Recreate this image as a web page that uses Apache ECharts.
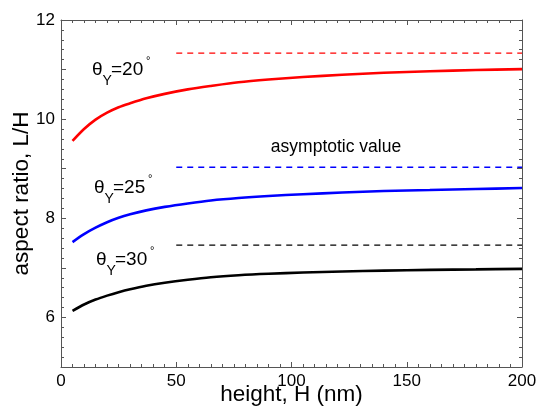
<!DOCTYPE html>
<html>
<head>
<meta charset="utf-8">
<script src="https://cdn.jsdelivr.net/npm/echarts@6/dist/echarts.min.js"></script>
<style>html,body{margin:0;padding:0;background:#fff}#c{width:537px;height:414px}</style>
</head>
<body>
<div id="c"></div>
<script>
// ---- data ----
var heights = [5, 10, 15, 20, 25, 30, 37, 45, 55, 65, 77, 90, 105, 122, 140, 160, 180, 200];
var ratio20 = [9.56, 9.80, 9.99, 10.13, 10.24, 10.32, 10.42, 10.51, 10.60, 10.67, 10.745, 10.80, 10.85, 10.895, 10.935, 10.965, 10.99, 11.01];
var ratio25 = [7.52, 7.68, 7.81, 7.92, 8.01, 8.08, 8.16, 8.23, 8.30, 8.36, 8.41, 8.45, 8.485, 8.52, 8.55, 8.57, 8.59, 8.61];
var ratio30 = [6.13, 6.26, 6.36, 6.44, 6.51, 6.57, 6.64, 6.70, 6.76, 6.81, 6.85, 6.88, 6.905, 6.925, 6.945, 6.96, 6.97, 6.98];
var asymH = [50, 200];
var asym20 = 11.33, asym25 = 9.03, asym30 = 7.46;
var xTicks = [0, 50, 100, 150, 200];
var yTickLabels = [6, 8, 10, 12];
var angleLabels = ['20', '25', '30'];

var FONT = '"Liberation Sans", Arial, sans-serif';
function pairs(ys) { return heights.map(function (h, i) { return [h, ys[i]]; }); }
function asymLine(v) { return asymH.map(function (h) { return [h, v]; }); }

var chart = echarts.init(document.getElementById('c'));

function thetaLabel(x0, yc, deg, color) {
  return {
    type: 'group', children: [
      { type: 'text', x: x0, y: yc, style: { text: 'θ', fill: color, font: '19px ' + FONT, verticalAlign: 'middle' } },
      { type: 'text', x: x0 + 10.5, y: yc + 11, style: { text: 'Y', fill: color, font: '14px ' + FONT, verticalAlign: 'middle' } },
      { type: 'text', x: x0 + 19, y: yc, style: { text: '=' + deg, fill: color, font: '19px ' + FONT, verticalAlign: 'middle' } },
      { type: 'text', x: x0 + 54, y: yc - 9, style: { text: '°', fill: color, font: '11px ' + FONT, verticalAlign: 'middle' } }
    ]
  };
}

var AX = '#555';
function mkTick() { return { show: true, inside: true, length: 5, lineStyle: { color: AX, width: 1 } }; }
function mkMinor(n) { return { show: true, splitNumber: n, length: 3, lineStyle: { color: AX, width: 1 } }; }
var axLine = { show: true, onZero: false, lineStyle: { color: AX, width: 1 } };

chart.setOption({
  animation: false,
  grid: { left: 61, right: 15, top: 20, bottom: 47, containLabel: false, outerBoundsMode: 'none' },
  xAxis: [
    {
      type: 'value', min: 0, max: 200, interval: 50, position: 'bottom',
      name: 'height, H (nm)', nameLocation: 'middle', nameGap: 16, nameMoveOverlap: false,
      nameTextStyle: { fontSize: 22.5, color: '#000', fontFamily: FONT },
      axisLabel: { fontSize: 17, color: '#000', fontFamily: FONT, margin: 6 },
      axisLine: axLine, axisTick: mkTick(), minorTick: mkMinor(10), splitLine: { show: false }
    },
    {
      type: 'value', min: 0, max: 200, interval: 50, position: 'top',
      axisLabel: { show: false },
      axisLine: axLine, axisTick: mkTick(), minorTick: mkMinor(10), splitLine: { show: false }
    }
  ],
  yAxis: [
    {
      type: 'value', min: 5, max: 12, interval: 1, position: 'left',
      name: 'aspect ratio, L/H', nameLocation: 'middle', nameGap: 28, nameMoveOverlap: false,
      nameTextStyle: { fontSize: 22.5, color: '#000', fontFamily: FONT },
      axisLabel: {
        fontSize: 17, color: '#000', fontFamily: FONT, margin: 6,
        formatter: function (v) { return yTickLabels.indexOf(v) >= 0 ? String(v) : ''; }
      },
      axisLine: axLine, axisTick: mkTick(), minorTick: mkMinor(5), splitLine: { show: false }
    },
    {
      type: 'value', min: 5, max: 12, interval: 1, position: 'right',
      axisLabel: { show: false },
      axisLine: axLine, axisTick: mkTick(), minorTick: mkMinor(5), splitLine: { show: false }
    }
  ],
  series: [
    { type: 'line', data: pairs(ratio20), smooth: 0.3, showSymbol: false, lineStyle: { color: '#ff0000', width: 2.6 } },
    { type: 'line', data: pairs(ratio25), smooth: 0.3, showSymbol: false, lineStyle: { color: '#0000ff', width: 2.6 } },
    { type: 'line', data: pairs(ratio30), smooth: 0.3, showSymbol: false, lineStyle: { color: '#000000', width: 2.6 } },
    { type: 'line', data: asymLine(asym20), showSymbol: false, lineStyle: { color: '#ff0000', width: 1.3, type: [6, 5] } },
    { type: 'line', data: asymLine(asym25), showSymbol: false, lineStyle: { color: '#0000ff', width: 1.3, type: [6, 5] } },
    { type: 'line', data: asymLine(asym30), showSymbol: false, lineStyle: { color: '#000000', width: 1.3, type: [6, 5] } }
  ],
  graphic: [
    thetaLabel(92, 70, angleLabels[0], '#000'),
    thetaLabel(94, 188, angleLabels[1], '#000'),
    thetaLabel(96, 260, angleLabels[2], '#000'),
    { type: 'text', x: 336, y: 147, style: { text: 'asymptotic value', fill: '#000', font: '17.5px ' + FONT, align: 'center', verticalAlign: 'middle' } }
  ]
});
</script>
</body>
</html>
